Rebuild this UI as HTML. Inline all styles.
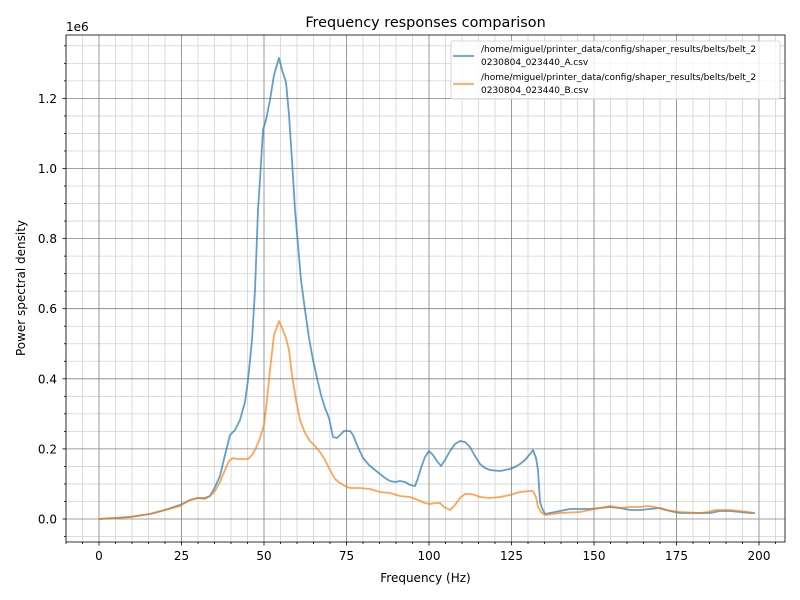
<!DOCTYPE html>
<html><head><meta charset="utf-8"><style>body{margin:0;background:#fff}svg{display:block}text{font-family:"DejaVu Sans","Liberation Sans",sans-serif}</style></head>
<body><svg id="s" width="800" height="600" xmlns="http://www.w3.org/2000/svg"></svg>
<script>
const s=document.getElementById('s');let h='';
const L=66,R=785,T=35,B=542,x0=99,px=3.3,y0=519,py=70.1;
h+='<rect width="800" height="600" fill="#fff"/>';
for(let v=-10;v<=208;v+=5){const x=x0+v*px;if(x<L||x>R)continue;const maj=v%25==0;
 if(!maj)h+=`<line x1="${x}" y1="${T}" x2="${x}" y2="${B}" stroke="#d3d3d3" stroke-width="0.8"/>`;
 h+=`<line x1="${x}" y1="${B}" x2="${x}" y2="${B+(maj?3.5:2)}" stroke="#000" stroke-width="0.8"/>`;}
for(let k=-1;k<=27;k++){const y=y0-k*py/4;if(y<T||y>B)continue;const maj=k%4==0;
 if(!maj)h+=`<line x1="${L}" y1="${y}" x2="${R}" y2="${y}" stroke="#d3d3d3" stroke-width="0.8"/>`;
 h+=`<line x1="${L}" y1="${y}" x2="${L-(maj?3.5:2)}" y2="${y}" stroke="#000" stroke-width="0.8"/>`;}
for(let v=0;v<=200;v+=25){const x=x0+v*px;h+=`<line x1="${x}" y1="${T}" x2="${x}" y2="${B}" stroke="#808080" stroke-width="0.8"/><text x="${x}" y="560" font-size="12" text-anchor="middle">${v}</text>`;}
for(let k=0;k<=6;k++){const y=y0-k*py;h+=`<line x1="${L}" y1="${y}" x2="${R}" y2="${y}" stroke="#808080" stroke-width="0.8"/><text x="57" y="${y+4.5}" font-size="12" text-anchor="end">${(k*0.2).toFixed(1)}</text>`;}
const A=[[99,519],[115,518],[130,517],[150,514],[165,510],[180,505],[190,500],[198,498],[205,498],[210,496],[215,487],[220,476],[225,455],[230,435],[235,430],[240,420],[245,402],[248,380],[252,340],[255,290],[258,210],[260,180],[263,130],[266,120],[270,100],[274,75],[279,58],[282,70],[286,82],[289,115],[292,160],[295,210],[298,245],[301,280],[305,310],[309,338],[313,360],[317,378],[321,395],[325,408],[329,418],[333,437],[337,438],[340,435],[344,431],[350,431],[353,435],[357,445],[363,458],[369,465],[375,470],[380,474],[385,478],[390,481],[395,482],[400,481],[405,482],[410,485],[415,486],[418,478],[421,468],[425,457],[429,451],[433,455],[437,461],[441,466],[445,460],[450,451],[455,444],[460,441],[465,442],[470,447],[475,456],[480,464],[485,468],[490,470],[500,471],[510,469],[515,467],[520,464],[525,460],[530,454],[533,450],[536,458],[538,470],[540,502],[542,508],[545,514],[550,513],[560,511],[570,509],[580,509],[590,509],[600,508],[610,507],[620,508],[630,510],[640,510],[650,509],[660,508],[670,511],[680,513],[700,513],[710,513],[720,511],[730,511],[740,512],[750,513],[755,513]];
const Bd=[[99,519],[115,518],[130,517],[150,514],[165,510],[180,506],[190,500],[198,498],[205,499],[210,496],[215,491],[220,482],[225,470],[229,461],[233,458],[237,459],[243,459],[248,459],[252,455],[256,448],[260,438],[264,425],[267,400],[270,370],[274,335],[279,321],[282,328],[286,338],[289,350],[292,375],[296,400],[300,420],[305,433],[310,441],[315,446],[320,452],[325,460],[330,470],[335,479],[340,483],[345,486],[350,488],[360,488],[370,489],[380,492],[390,493],[400,496],[410,497],[418,500],[425,503],[430,504],[435,503],[440,503],[444,507],[450,510],[455,505],[460,498],[465,494],[470,494],[475,495],[480,497],[490,498],[500,497],[510,495],[520,492],[530,491],[533,491],[536,497],[538,507],[541,512],[545,515],[560,513],[580,512],[595,509],[610,506],[620,508],[630,507],[640,507],[648,506],[655,507],[665,510],[680,512],[700,513],[708,512],[715,510],[730,510],[740,511],[755,513]];
const pl=(d,c)=>`<polyline fill="none" stroke="${c}" stroke-opacity="0.7" stroke-width="1.8" stroke-linejoin="round" points="${d.map(p=>p.join(',')).join(' ')}"/>`;
h+=pl(A,'#1f77b4')+pl(Bd,'#ff7f0e');
h+=`<rect x="${L}" y="${T}" width="${R-L}" height="${B-T}" fill="none" stroke="#000" stroke-width="0.8"/>`;
h+='<text x="425.5" y="27" font-size="14.4" text-anchor="middle">Frequency responses comparison</text>';
h+='<text x="425.5" y="582" font-size="12" text-anchor="middle">Frequency (Hz)</text>';
h+='<text transform="translate(25,288) rotate(-90)" font-size="12" text-anchor="middle">Power spectral density</text>';
h+='<text x="66" y="31" font-size="12">1e6</text>';
h+='<rect x="451" y="41" width="329" height="58" rx="2" fill="#fff" fill-opacity="0.8" stroke="#ccc" stroke-width="0.8"/>';
h+='<line x1="453" y1="56" x2="474" y2="56" stroke="#1f77b4" stroke-opacity="0.7" stroke-width="1.8"/><line x1="453" y1="84" x2="474" y2="84" stroke="#ff7f0e" stroke-opacity="0.7" stroke-width="1.8"/>';
h+='<text font-size="9" x="481"><tspan x="481" y="52">/home/miguel/printer_data/config/shaper_results/belts/belt_2</tspan><tspan x="481" y="65">0230804_023440_A.csv</tspan><tspan x="481" y="80">/home/miguel/printer_data/config/shaper_results/belts/belt_2</tspan><tspan x="481" y="93">0230804_023440_B.csv</tspan></text>';
s.innerHTML=h;
</script></body></html>
